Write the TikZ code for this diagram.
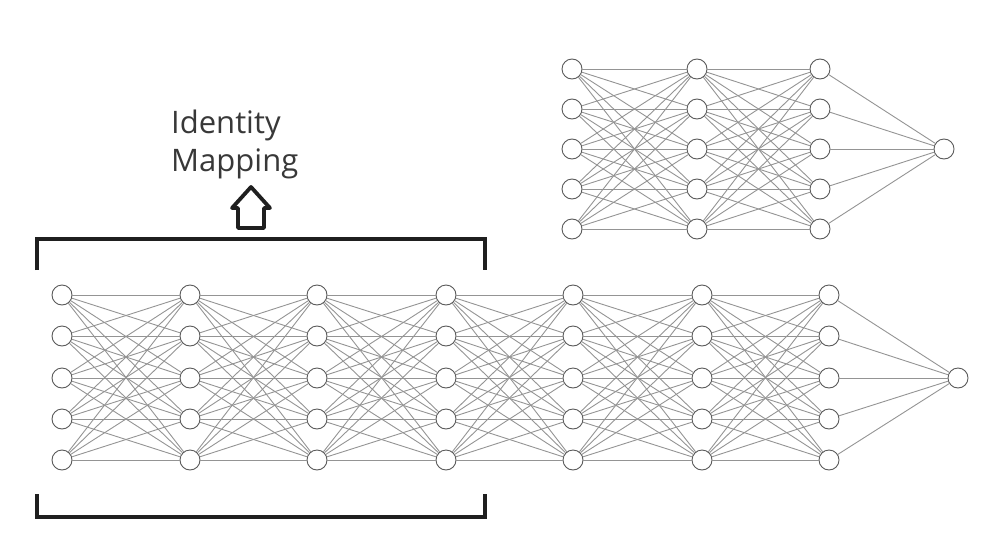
\documentclass[tikz,border=0pt]{standalone}
\usepackage{fontspec}
\setmainfont{Open Sans}
\begin{document}
\begin{tikzpicture}[x=1pt,y=-1pt,
  neuron/.style={circle,draw=black!65,line width=0.9pt,fill=white,minimum size=20pt,inner sep=0pt},
  conn/.style={draw=black!42,line width=0.9pt},
  bracket/.style={draw=black!88,line width=4.5pt},
  lbl/.style={font=\fontsize{31}{38}\selectfont,text=black!78,align=left,inner sep=0pt}]
\useasboundingbox (0,0) rectangle (1001,557);
% bottom network
\foreach \l/\x in {1/62,2/190,3/317,4/446,5/573,6/702,7/829}
  \foreach \r/\y in {1/295,2/336,3/378,4/419,5/460}
    \node[neuron] (b-\l-\r) at (\x,\y) {};
\node[neuron] (bout) at (958,378) {};
\foreach \l [evaluate=\l as \n using int(\l+1)] in {1,...,6}
  \foreach \r in {1,...,5}
    \foreach \s in {1,...,5}
      \path[conn] (b-\l-\r) -- (b-\n-\s);
\foreach \r in {1,...,5} \path[conn] (b-7-\r) -- (bout);
% top network
\foreach \l/\x in {1/572,2/697,3/820}
  \foreach \r/\y in {1/69,2/109,3/149,4/189,5/229}
    \node[neuron] (t-\l-\r) at (\x,\y) {};
\node[neuron] (tout) at (944,149) {};
\foreach \l [evaluate=\l as \n using int(\l+1)] in {1,2}
  \foreach \r in {1,...,5}
    \foreach \s in {1,...,5}
      \path[conn] (t-\l-\r) -- (t-\n-\s);
\foreach \r in {1,...,5} \path[conn] (t-3-\r) -- (tout);
% brackets
\coordinate (tbl) at (37,270);
\coordinate (tbr) at (485,270);
\draw[bracket] (tbl) -- ++(0,-31) -| (tbr);
\coordinate (bbl) at (37,494);
\coordinate (bbr) at (485,494);
\draw[bracket] (bbl) -- ++(0,23) -| (bbr);
% arrow
\draw[draw=black!88,line width=3.8pt,line join=round]
  (238,228) -- (238,208) -- (232,208) -- (251,187) -- (270,208) -- (264,208) -- (264,228) -- cycle;
% label
\node[lbl,anchor=base west] (lab) at (171,171) {Identity\\Mapping};
\end{tikzpicture}
\end{document}
